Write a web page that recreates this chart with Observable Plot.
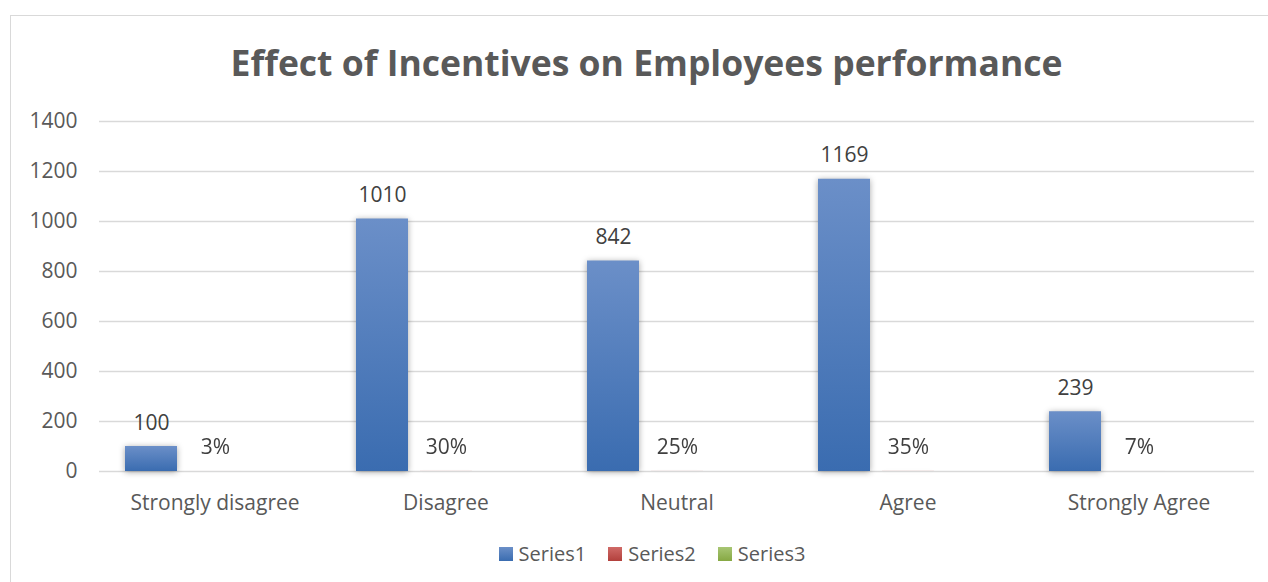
<!DOCTYPE html>
<html><head><meta charset="utf-8">
<script src="https://cdn.jsdelivr.net/npm/d3@7"></script>
<script src="https://cdn.jsdelivr.net/npm/@observablehq/plot@0.6"></script>
<style>
html,body{margin:0;padding:0;background:#fff;overflow:hidden;width:1268px;height:582px;position:relative;}
#frame{position:absolute;left:10px;top:15px;width:1270px;height:580px;border:1px solid #d9d9d9;box-sizing:border-box;}
#title{position:absolute;left:0;top:41px;width:1293px;text-align:center;font-family:"Open Sans";font-weight:bold;font-size:35.5px;color:#595959;line-height:1.2;white-space:nowrap;}
#chart{position:absolute;left:0;top:0;}
#legend{position:absolute;top:540px;left:0;width:1304px;display:flex;justify-content:center;align-items:center;font-family:"Open Sans";font-size:20px;color:#595959;}
.item{display:flex;align-items:center;margin:0 11px;}
.sw{width:14px;height:14px;margin-right:6px;}
</style></head>
<body>
<div id="frame"></div>
<div id="title">Effect of Incentives on Employees performance</div>
<div id="chart"></div>
<div id="legend"></div>
<script>
const categories = ["Strongly disagree", "Disagree", "Neutral", "Agree", "Strongly Agree"];
const seriesNames = ["Series1", "Series2", "Series3"];
const series1 = [100, 1010, 842, 1169, 239];
const series2 = [0.03, 0.30, 0.25, 0.35, 0.07];
const series2Labels = ["3%", "30%", "25%", "35%", "7%"];
const series3 = [0, 0, 0, 0, 0];
const yTicks = [0, 200, 400, 600, 800, 1000, 1200, 1400];
const seriesColors = [["#6b8fc8", "#3a6cb0"], ["#d06a67", "#b2403c"], ["#a8c674", "#86a843"]];

const rows = [];
categories.forEach((c, i) => {
  rows.push({category: c, series: "Series1", value: series1[i], label: String(series1[i])});
  rows.push({category: c, series: "Series2", value: series2[i], label: series2Labels[i]});
  rows.push({category: c, series: "Series3", value: series3[i], label: null});
});

const svg = Plot.plot({
  width: 1268, height: 582,
  marginLeft: 98, marginRight: 13, marginTop: 121, marginBottom: 111,
  style: {fontFamily: "Open Sans", fontSize: "21px", color: "#595959", background: "transparent", overflow: "visible"},
  fx: {domain: categories, padding: 0, label: null, axis: "bottom", tickSize: 0, tickPadding: 24},
  x: {domain: seriesNames, paddingInner: 0.19, paddingOuter: 0.389, axis: null},
  y: {domain: [0, 1400], axis: "left", ticks: yTicks, tickSize: 0, tickPadding: 22, label: null, tickFormat: d => String(d)},
  color: {domain: seriesNames, range: ["url(#g0)", "url(#g1)", "url(#g2)"]},
  marks: [
    Plot.ruleY(yTicks, {stroke: "#d9d9d9", strokeWidth: 1.3}),
    Plot.barY(rows, {fx: "category", x: "series", y: "value", fill: "series"}),
    Plot.text(rows.filter(d => d.label), {fx: "category", x: "series", y: "value", text: "label", lineAnchor: "bottom", dy: -17, fill: "#404040", fontSize: 21})
  ]
});

const defs = d3.select(svg).insert("defs", ":first-child");
seriesColors.forEach((c, i) => {
  const g = defs.append("linearGradient").attr("id", "g" + i).attr("x1", 0).attr("y1", 0).attr("x2", 0).attr("y2", 1);
  g.append("stop").attr("offset", "0%").attr("stop-color", c[0]);
  g.append("stop").attr("offset", "100%").attr("stop-color", c[1]);
});
d3.select(svg).selectAll("g[aria-label='bar']").style("filter", "drop-shadow(0px 1px 3px rgba(0,0,0,0.35))");
document.getElementById("chart").appendChild(svg);

const legend = d3.select("#legend");
seriesNames.forEach((s, i) => {
  const it = legend.append("div").attr("class", "item");
  it.append("div").attr("class", "sw").style("background", `linear-gradient(${seriesColors[i][0]}, ${seriesColors[i][1]})`);
  it.append("span").text(s);
});
</script>
</body></html>
